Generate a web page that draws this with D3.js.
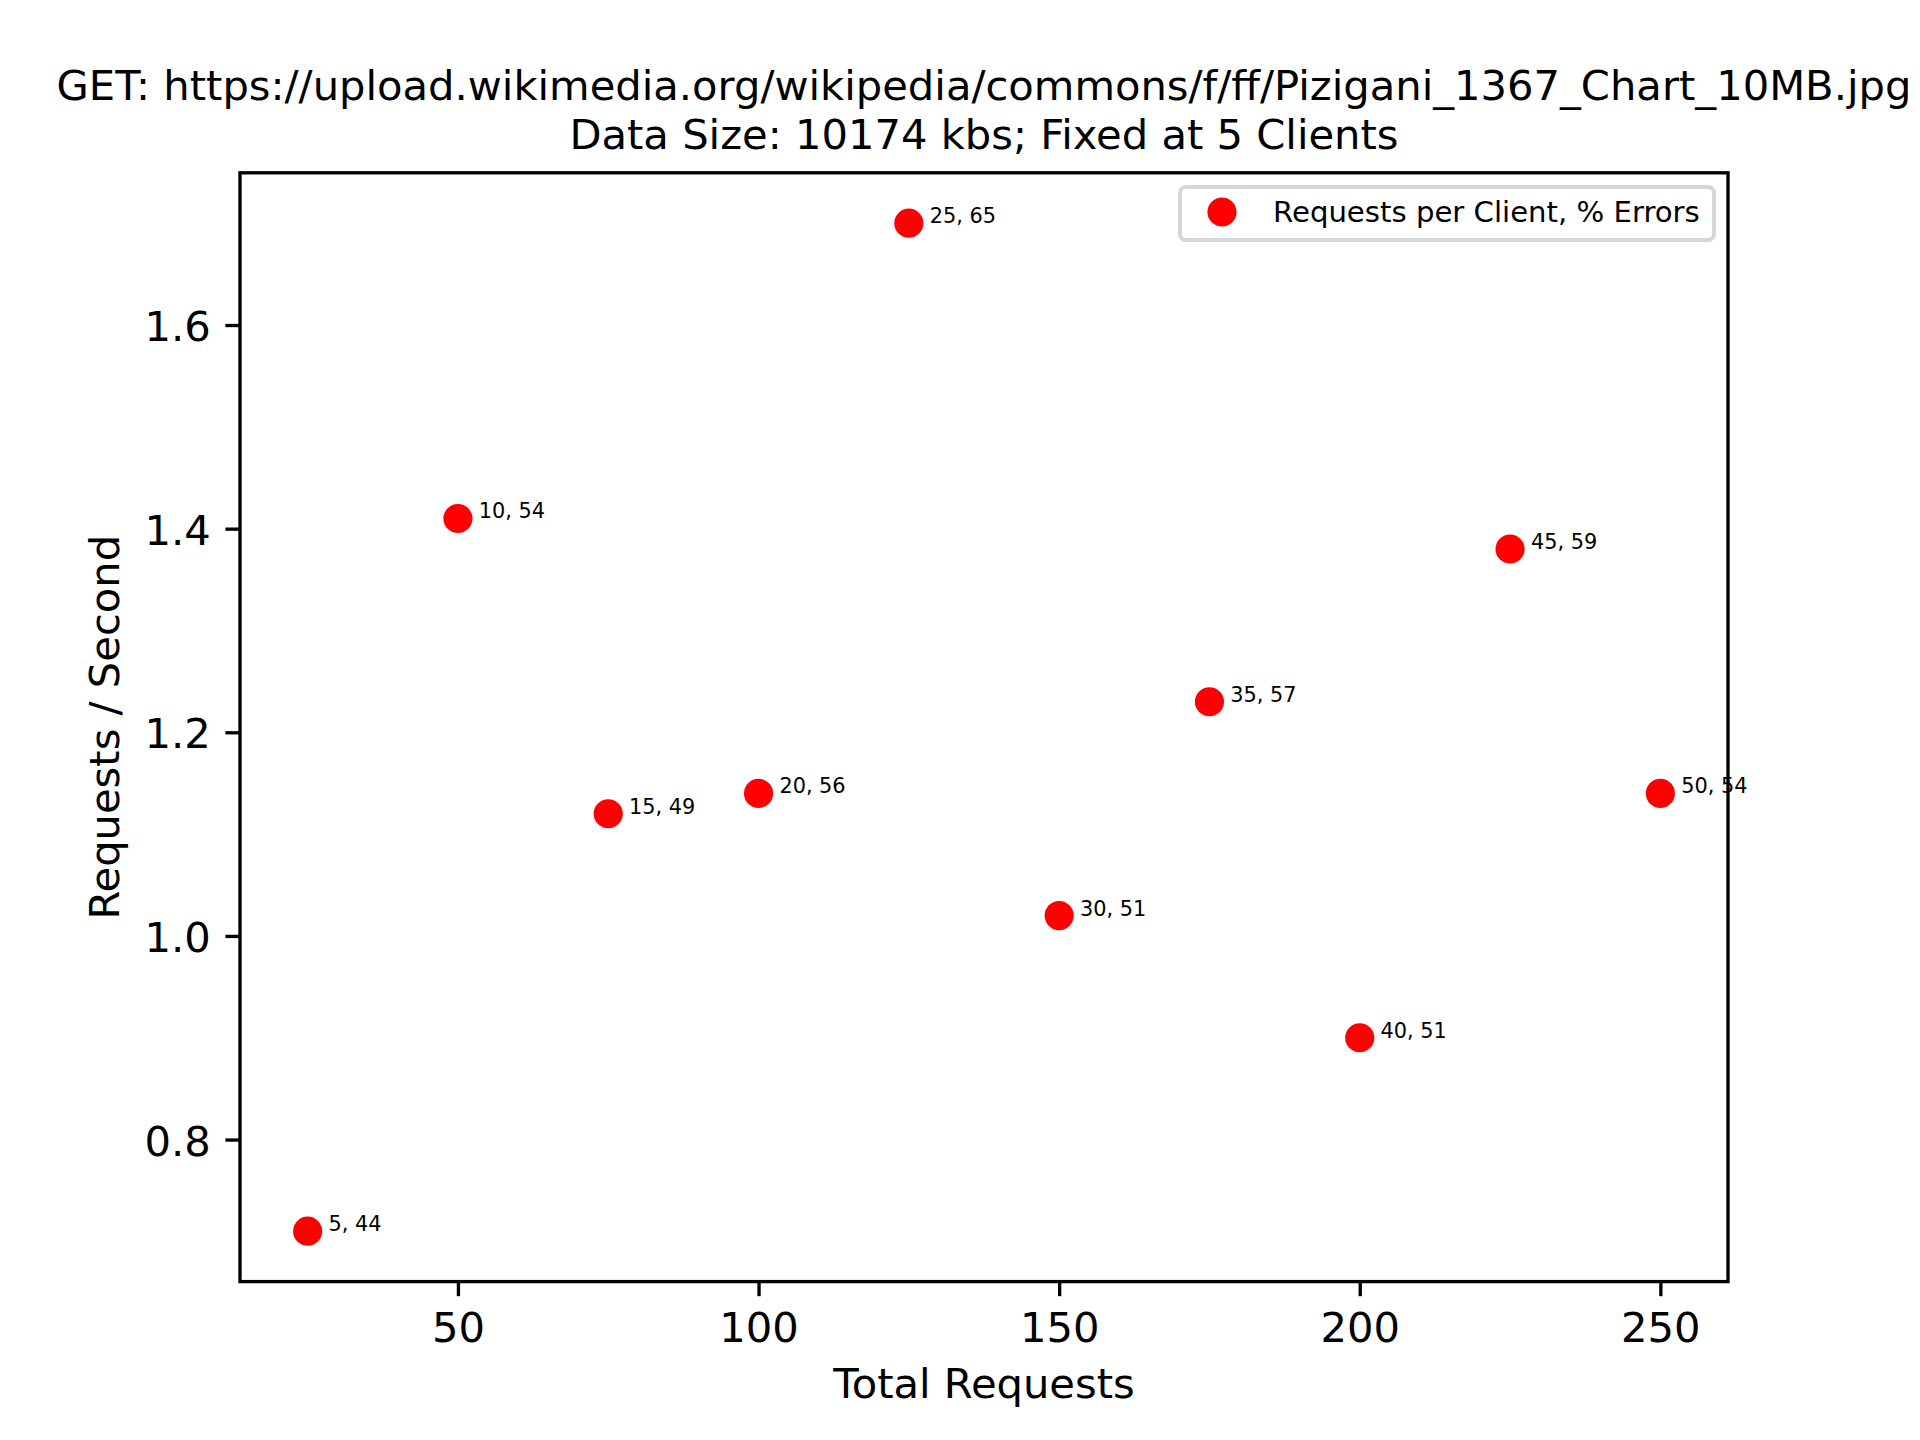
<!DOCTYPE html>
<html>
<head>
<meta charset="utf-8">
<script src="https://cdn.jsdelivr.net/npm/d3@7"></script>
<style>
  body { margin: 0; background: #fff; }
  text { font-family: "DejaVu Sans", sans-serif; }
</style>
</head>
<body>
<div id="chart"></div>
<script>
// 5 clients, each sending N requests
var titleLines = [
    "GET: https://upload.wikimedia.org/wikipedia/commons/f/ff/Pizigani_1367_Chart_10MB.jpg",
    "Data Size: 10174 kbs; Fixed at 5 Clients"
]
var requestsPerClient = [5, 10, 15, 20, 25, 30, 35, 40, 45, 50]
var totalRequests = [25, 50, 75, 100, 125, 150, 175, 200, 225, 250]
var requestsPerSecond = [0.71, 1.41, 1.12, 1.14, 1.70, 1.02, 1.23, 0.90, 1.38, 1.14]
var errorPercent = [44, 54, 49, 56, 65, 51, 57, 51, 59, 54]
var xTicks = [50, 100, 150, 200, 250]
var yTicks = [0.8, 1.0, 1.2, 1.4, 1.6]
var legendLabel = "Requests per Client, % Errors"

var W = 1920, H = 1440
var pt = 300 / 72
// axes box (window.top is reserved, so no plain "top")
var axL = 240, axR = 1728, axT = 172.8, axB = 1281.6

var svg = d3.select("#chart").append("svg")
    .attr("width", W).attr("height", H)
svg.append("rect").attr("width", W).attr("height", H).attr("fill", "#fff")

// matplotlib style 5% margins
function padded(vals) {
    var ext = d3.extent(vals)
    var m = (ext[1] - ext[0]) * 0.05
    return [ext[0] - m, ext[1] + m]
}

var x = d3.scaleLinear().domain(padded(totalRequests)).range([axL, axR])
var y = d3.scaleLinear().domain(padded(requestsPerSecond)).range([axB, axT])

var points = totalRequests.map((t, i) => ({
    x: t, y: requestsPerSecond[i], label: requestsPerClient[i] + ", " + errorPercent[i]
}))

var g = svg.append("g")

g.selectAll("circle.pt").data(points).enter().append("circle")
    .attr("class", "pt")
    .attr("cx", d => x(d.x))
    .attr("cy", d => y(d.y))
    .attr("r", 3.5 * pt)
    .attr("fill", "#ff0000")

g.selectAll("text.ann").data(points).enter().append("text")
    .attr("class", "ann")
    .attr("x", d => x(d.x) + 5 * pt)
    .attr("y", d => y(d.y))
    .attr("font-size", 5 * pt)
    .text(d => d.label)

// axes
var xAxis = d3.axisBottom(x).tickValues(xTicks).tickSize(3.5 * pt).tickPadding(3.5 * pt)
var yAxis = d3.axisLeft(y).tickValues(yTicks).tickSize(3.5 * pt).tickPadding(3.5 * pt)
    .tickFormat(d3.format(".1f"))

var gx = svg.append("g").attr("transform", "translate(0," + axB + ")").call(xAxis)
var gy = svg.append("g").attr("transform", "translate(" + axL + ",0)").call(yAxis)
;[gx, gy].forEach(a => {
    a.select(".domain").remove()
    a.selectAll(".tick line").attr("stroke", "#000").attr("stroke-width", 0.8 * pt)
    a.selectAll(".tick text").attr("font-size", 10 * pt).attr("fill", "#000")
        .attr("font-family", "DejaVu Sans")
})
gx.selectAll(".tick text").attr("dy", null).attr("y", 60.4)
gy.selectAll(".tick text").attr("dy", null).attr("y", 15.5)

// frame on top
svg.append("rect")
    .attr("x", axL).attr("y", axT)
    .attr("width", axR - axL).attr("height", axB - axT)
    .attr("fill", "none").attr("stroke", "#000").attr("stroke-width", 0.8 * pt)

// labels
var title = svg.append("text").attr("text-anchor", "middle").attr("font-size", 10 * pt)
titleLines.forEach((line, i) => {
    title.append("tspan").attr("x", (axL + axR) / 2).attr("y", 100 + i * 49).text(line)
})

svg.append("text")
    .attr("x", (axL + axR) / 2).attr("y", 1398)
    .attr("text-anchor", "middle").attr("font-size", 10 * pt)
    .text("Total Requests")

svg.append("text")
    .attr("transform", "translate(119," + (axT + axB) / 2 + ") rotate(-90)")
    .attr("text-anchor", "middle").attr("font-size", 10 * pt)
    .text("Requests / Second")

// legend
var lg = svg.append("g")
lg.append("rect")
    .attr("x", 1180).attr("y", 187).attr("width", 534).attr("height", 53)
    .attr("rx", 6).attr("ry", 6)
    .attr("fill", "#fff").attr("fill-opacity", 0.8)
    .attr("stroke", "#d6d6d6").attr("stroke-width", 4)
lg.append("circle").attr("cx", 1222).attr("cy", 212).attr("r", 3.5 * pt).attr("fill", "#ff0000")
lg.append("text").attr("x", 1273).attr("y", 222).attr("font-size", 7 * pt).text(legendLabel)
</script>
</body>
</html>
